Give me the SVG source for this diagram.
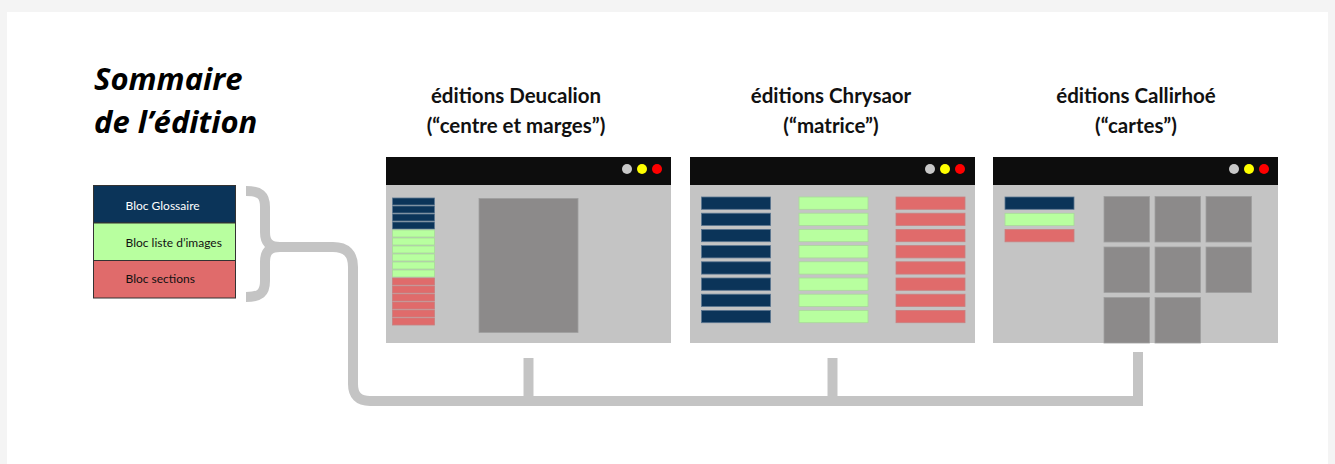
<svg xmlns="http://www.w3.org/2000/svg" width="1335" height="464" viewBox="0 0 1335 464">
<defs>
<style>
.title{font-family:"Open Sans","Liberation Sans",sans-serif;font-weight:700;font-style:italic;font-size:31px;fill:#000}
.head{font-family:Lato,"Liberation Sans",sans-serif;font-weight:700;font-size:20.5px;fill:#111;text-anchor:middle}
.leg{font-family:Lato,"Liberation Sans",sans-serif;font-size:12px}
.bar{fill:#c4c4c4}
.tb{fill:#0d0d0d}
.nv{fill:#0b3459;stroke:#5a7590;stroke-width:0.8}
.gr{fill:#b8ff9f;stroke:#a9d99a;stroke-width:0.8}
.rd{fill:#e06b6b;stroke:#c98080;stroke-width:0.8}
.gy{fill:#8c8a8a;stroke:#9e9e9e;stroke-width:0.8}
.conn{fill:none;stroke:#c4c4c4;stroke-width:10}
</style>
</defs>
<rect width="1335" height="464" fill="#f4f4f4"/>
<rect x="7" y="12" width="1321" height="452" fill="#fff"/>

<g id="title">
<text class="title" x="94" y="90">Sommaire</text>
<text class="title" x="94" y="133">de l’édition</text>
</g>

<g id="legend">
<rect x="93.5" y="185.5" width="142" height="37.5" fill="#0b3459" stroke="#333" stroke-width="1"/>
<rect x="93.5" y="223" width="142" height="37.5" fill="#b8ff9f" stroke="#333" stroke-width="1"/>
<rect x="93.5" y="260.5" width="142" height="37.5" fill="#e06b6b" stroke="#333" stroke-width="1"/>
<text class="leg" x="125.5" y="209.5" fill="#fff">Bloc Glossaire</text>
<text class="leg" x="125.5" y="246.5" fill="#111">Bloc liste d’images</text>
<text class="leg" x="125.5" y="283" fill="#111">Bloc sections</text>
</g>

<g id="connectors">
<path class="conn" d="M246 191 C260 191 265 195 265 207 L265 232 C265 242 269 247 280 247"/>
<path class="conn" d="M246 297 C260 297 265 293 265 281 L265 262 C265 252 269 247 280 247"/>
<path class="conn" d="M275 247 L333 247 Q353 247 353 267 L353 384 Q353 401 370 401 L1138 401 L1138 352"/>
<path class="conn" d="M528.5 401 L528.5 358"/>
<path class="conn" d="M832.5 401 L832.5 358"/>
</g>

<g id="deucalion">
<text class="head" x="516" y="103">éditions Deucalion</text>
<text class="head" x="516" y="133">(“centre et marges”)</text>
<rect class="bar" x="386" y="157" width="285" height="186"/>
<rect class="tb" x="386" y="157" width="285" height="28"/>
<circle cx="627" cy="169" r="5" fill="#c8c8c8"/>
<circle cx="642" cy="169" r="5" fill="#ffff00"/>
<circle cx="657" cy="169" r="5" fill="#ff0000"/>
<rect class="nv" x="392.5" y="198" width="42" height="7"/>
<rect class="nv" x="392.5" y="206" width="42" height="7"/>
<rect class="nv" x="392.5" y="214" width="42" height="7"/>
<rect class="nv" x="392.5" y="222" width="42" height="7"/>
<rect class="gr" x="392.5" y="230" width="42" height="7"/>
<rect class="gr" x="392.5" y="238" width="42" height="7"/>
<rect class="gr" x="392.5" y="246" width="42" height="7"/>
<rect class="gr" x="392.5" y="254" width="42" height="7"/>
<rect class="gr" x="392.5" y="262" width="42" height="7"/>
<rect class="gr" x="392.5" y="270" width="42" height="7"/>
<rect class="rd" x="392.5" y="278" width="42" height="7"/>
<rect class="rd" x="392.5" y="286" width="42" height="7"/>
<rect class="rd" x="392.5" y="294" width="42" height="7"/>
<rect class="rd" x="392.5" y="302" width="42" height="7"/>
<rect class="rd" x="392.5" y="310" width="42" height="7"/>
<rect class="rd" x="392.5" y="318" width="42" height="7"/>
<rect class="gy" x="479" y="198.5" width="99" height="134"/>
</g>

<g id="chrysaor">
<text class="head" x="831" y="103">éditions Chrysaor</text>
<text class="head" x="831" y="133">(“matrice”)</text>
<rect class="bar" x="690" y="157" width="285" height="186"/>
<rect class="tb" x="690" y="157" width="285" height="28"/>
<circle cx="930" cy="169" r="5" fill="#c8c8c8"/>
<circle cx="945" cy="169" r="5" fill="#ffff00"/>
<circle cx="960" cy="169" r="5" fill="#ff0000"/>
<g id="chrysaor-rows">
<rect class="nv" x="701.5" y="197" width="69" height="12.3"/><rect class="gr" x="799" y="197" width="69" height="12.3"/><rect class="rd" x="896" y="197" width="69" height="12.3"/>
<rect class="nv" x="701.5" y="213.2" width="69" height="12.3"/><rect class="gr" x="799" y="213.2" width="69" height="12.3"/><rect class="rd" x="896" y="213.2" width="69" height="12.3"/>
<rect class="nv" x="701.5" y="229.4" width="69" height="12.3"/><rect class="gr" x="799" y="229.4" width="69" height="12.3"/><rect class="rd" x="896" y="229.4" width="69" height="12.3"/>
<rect class="nv" x="701.5" y="245.6" width="69" height="12.3"/><rect class="gr" x="799" y="245.6" width="69" height="12.3"/><rect class="rd" x="896" y="245.6" width="69" height="12.3"/>
<rect class="nv" x="701.5" y="261.8" width="69" height="12.3"/><rect class="gr" x="799" y="261.8" width="69" height="12.3"/><rect class="rd" x="896" y="261.8" width="69" height="12.3"/>
<rect class="nv" x="701.5" y="278" width="69" height="12.3"/><rect class="gr" x="799" y="278" width="69" height="12.3"/><rect class="rd" x="896" y="278" width="69" height="12.3"/>
<rect class="nv" x="701.5" y="294.2" width="69" height="12.3"/><rect class="gr" x="799" y="294.2" width="69" height="12.3"/><rect class="rd" x="896" y="294.2" width="69" height="12.3"/>
<rect class="nv" x="701.5" y="310.4" width="69" height="12.3"/><rect class="gr" x="799" y="310.4" width="69" height="12.3"/><rect class="rd" x="896" y="310.4" width="69" height="12.3"/>
</g>
</g>

<g id="callirhoe">
<text class="head" x="1136" y="103">éditions Callirhoé</text>
<text class="head" x="1136" y="133">(“cartes”)</text>
<rect class="bar" x="993" y="157" width="285" height="186"/>
<rect class="tb" x="993" y="157" width="285" height="28"/>
<circle cx="1234" cy="169" r="5" fill="#c8c8c8"/>
<circle cx="1249" cy="169" r="5" fill="#ffff00"/>
<circle cx="1264" cy="169" r="5" fill="#ff0000"/>
<rect class="nv" x="1005" y="197" width="69" height="12.3"/>
<rect class="gr" x="1005" y="213.3" width="69" height="12.3"/>
<rect class="rd" x="1005" y="229.5" width="69" height="12.3"/>
<rect class="gy" x="1104" y="196.5" width="45.5" height="45.5"/>
<rect class="gy" x="1155" y="196.5" width="45.5" height="45.5"/>
<rect class="gy" x="1206" y="196.5" width="45.5" height="45.5"/>
<rect class="gy" x="1104" y="247" width="45.5" height="45.5"/>
<rect class="gy" x="1155" y="247" width="45.5" height="45.5"/>
<rect class="gy" x="1206" y="247" width="45.5" height="45.5"/>
<rect class="gy" x="1104" y="297.5" width="45.5" height="45.5"/>
<rect class="gy" x="1155" y="297.5" width="45.5" height="45.5"/>
</g>
</svg>
